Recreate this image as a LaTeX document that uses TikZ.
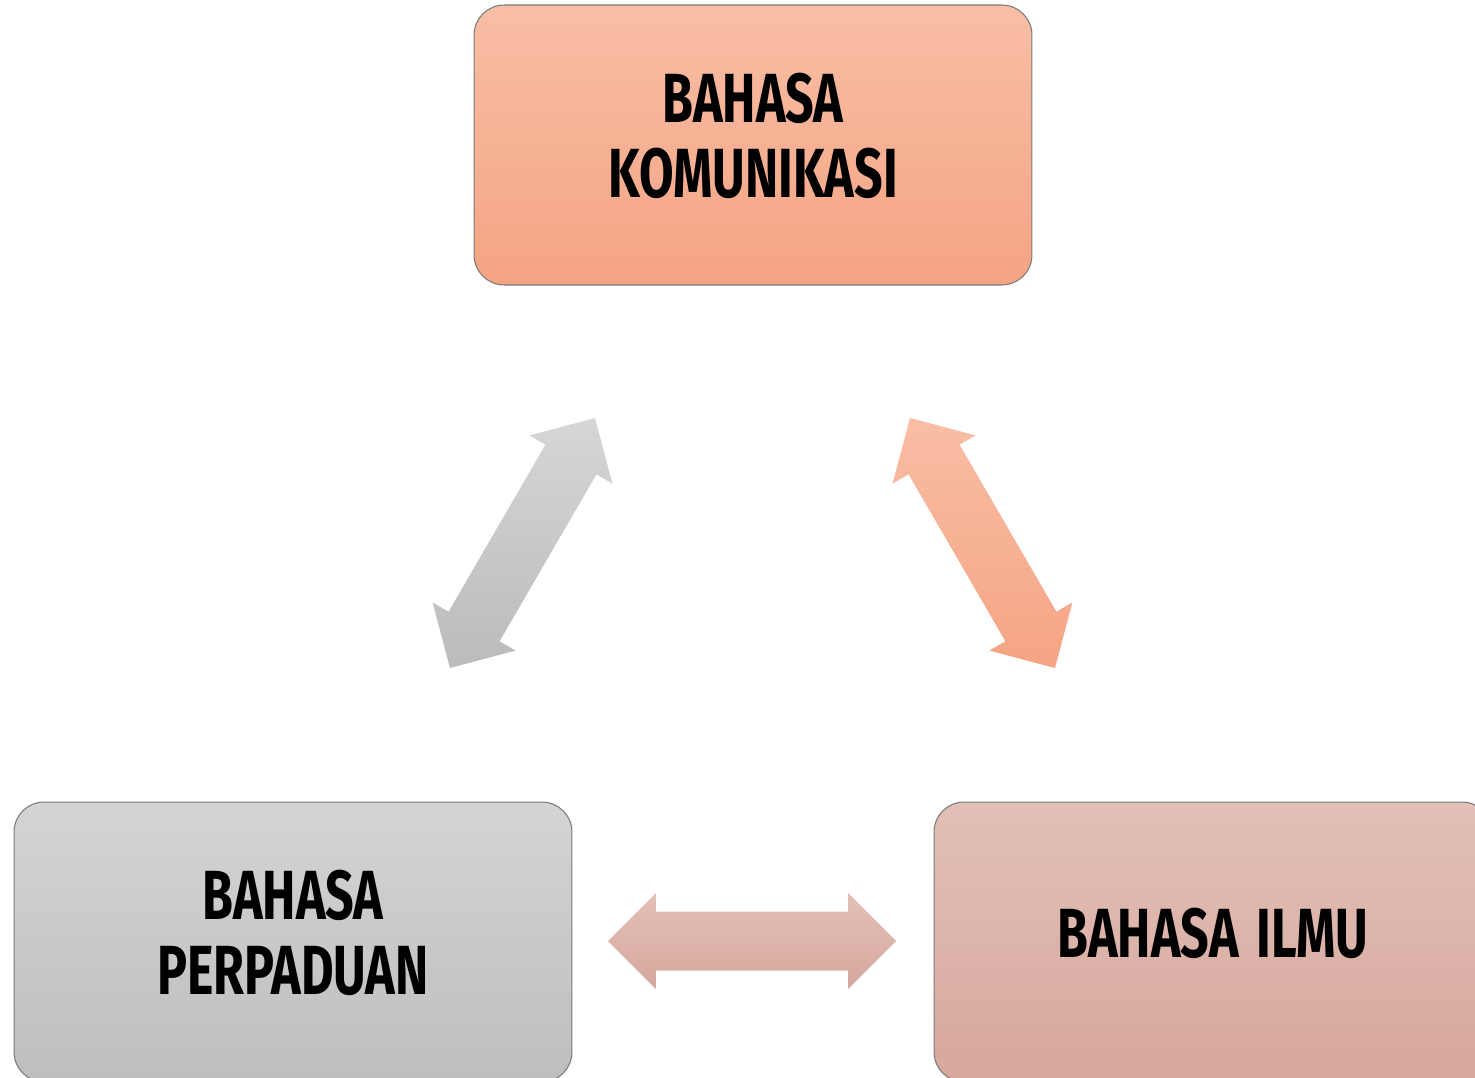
\documentclass[tikz,border=0pt]{standalone}
\usepackage{fontspec}
\usetikzlibrary{calc}
\newfontfamily\handfont[FakeStretch=0.72]{Fira Sans}
\definecolor{orTop}{HTML}{F8BEA5}
\definecolor{orBot}{HTML}{F5A483}
\definecolor{grTop}{HTML}{D4D4D4}
\definecolor{grBot}{HTML}{BEBEBE}
\definecolor{rsTop}{HTML}{E2C0B7}
\definecolor{rsBot}{HTML}{D7A79C}
\definecolor{edge}{HTML}{7A7A7A}
\tikzset{
  box/.style={rounded corners=0.6cm, draw=edge, line width=0.6pt,
    minimum width=11.16cm, minimum height=5.6cm, inner sep=0pt,
    align=center, font=\handfont\bfseries\fontsize{39.6}{42.7}\selectfont},
  orbox/.style={box, top color=orTop, bottom color=orBot},
  grbox/.style={box, top color=grTop, bottom color=grBot},
  rsbox/.style={box, top color=rsTop, bottom color=rsBot},
  grarr/.style={top color=grTop!95!white, bottom color=grBot!105!white},
  orarr/.style={top color=orTop, bottom color=orBot},
  rsarr/.style={top color=rsTop, bottom color=rsBot},
}
\newcommand\liftedtext[1]{\raisebox{0.13cm}{\begin{tabular}{@{}c@{}}#1\end{tabular}}}
% #1 name prefix, #2 start coordinate, #3 end coordinate, #4 style
\newcommand\blockarrow[4]{%
  \coordinate (#1ha) at ($(#2)!0.96cm!(#3)$);
  \coordinate (#1hb) at ($(#3)!0.96cm!(#2)$);
  \path[#4] (#2)
    -- ($(#1ha)!0.96cm!90:(#3)$) -- ($(#1ha)!0.59cm!90:(#3)$)
    -- ($(#1hb)!0.59cm!-90:(#2)$) -- ($(#1hb)!0.96cm!-90:(#2)$)
    -- (#3)
    -- ($(#1hb)!0.96cm!90:(#2)$) -- ($(#1hb)!0.59cm!90:(#2)$)
    -- ($(#1ha)!0.59cm!-90:(#3)$) -- ($(#1ha)!0.96cm!-90:(#3)$)
    -- cycle;
}
\begin{document}
\begin{tikzpicture}[x=0.02cm, y=-0.02cm]
  \useasboundingbox (0,0) rectangle (1475,1078);
  \clip (0,0) rectangle (1475,1078);
  \node[orbox] (kom) at (753,145) {\liftedtext{BAHASA\\KOMUNIKASI}};
  \node[grbox] (per) at (293,942) {\liftedtext{BAHASA\\PERPADUAN}};
  \node[rsbox] (ilmu) at (1213,942) {\liftedtext{BAHASA\hspace{0.35cm}ILMU}};
  % arrow end points
  \coordinate (g1) at (450,668);
  \coordinate (g2) at (595,418);
  \coordinate (o1) at (910,418);
  \coordinate (o2) at (1055,668);
  \coordinate (r1) at (608,941);
  \coordinate (r2) at (896,941);
  \blockarrow{ga}{g1}{g2}{grarr}
  \blockarrow{oa}{o1}{o2}{orarr}
  \blockarrow{ra}{r1}{r2}{rsarr}
\end{tikzpicture}
\end{document}
